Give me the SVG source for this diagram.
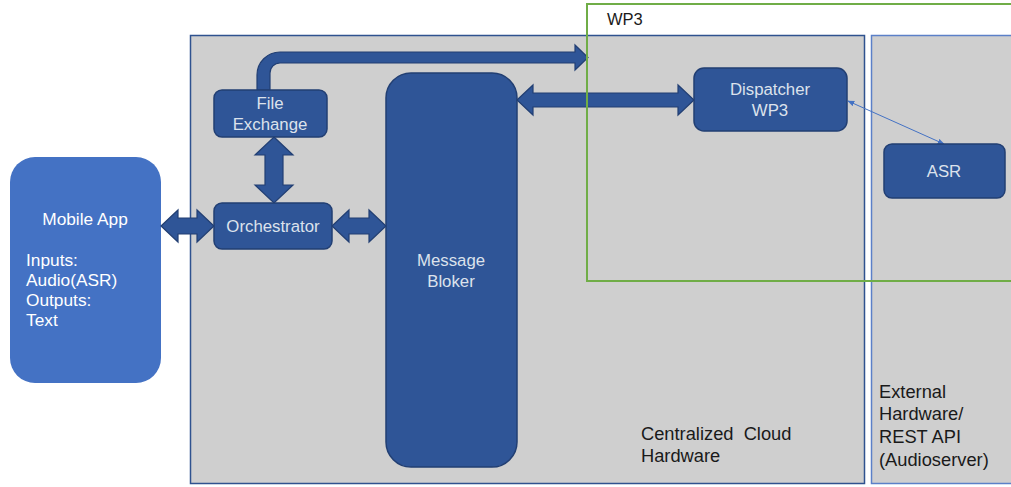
<svg xmlns="http://www.w3.org/2000/svg" width="1011" height="487" viewBox="0 0 1011 487">
<style>
text{font-family:"Liberation Sans",Arial,sans-serif;font-size:16.8px}
.node{fill:#2F5597;stroke:#223F73;stroke-width:1.5}
.nt{fill:#DCE2EC;text-anchor:middle}
.blk{fill:#2F5597;stroke:#223F73;stroke-width:1.2}
.lbl{fill:#1a1a1a;font-size:18.3px}
.mt{fill:#fff;font-size:17.3px}
</style>
<defs>
<marker id="ah" viewBox="0 0 10 10" refX="9" refY="5" markerWidth="7" markerHeight="7" orient="auto-start-reverse">
<path d="M0,1 L10,5 L0,9 Z" fill="#4472C4"/>
</marker>
</defs>
<rect width="1011" height="487" fill="#fff"/>
<g id="cloud">
<rect x="190.5" y="35.5" width="674" height="448" fill="#CFCFCF" stroke="#2F528F" stroke-width="1.5"/>
<text class="lbl" x="641" y="440" xml:space="preserve">Centralized  Cloud</text>
<text class="lbl" x="641" y="462">Hardware</text>
</g>
<g id="external">
<rect x="871.5" y="35.5" width="141" height="448" fill="#CFCFCF" stroke="#5B80C8" stroke-width="1.5"/>
<text class="lbl" x="879" y="398">External</text>
<text class="lbl" x="879" y="420">Hardware/</text>
<text class="lbl" x="879" y="443">REST API</text>
<text class="lbl" x="879" y="466">(Audioserver)</text>
</g>
<g id="mobile-app">
<rect x="10" y="157" width="151" height="226" rx="25" fill="#4472C4"/>
<text class="mt" x="85" y="225" text-anchor="middle">Mobile App</text>
<text class="mt" x="26" y="266">Inputs:</text>
<text class="mt" x="26" y="286">Audio(ASR)</text>
<text class="mt" x="26" y="306">Outputs:</text>
<text class="mt" x="26" y="326">Text</text>
</g>
<g id="connectors">
<path class="blk" d="M161,226 L178,210 L178,218 L197,218 L197,210 L214,226 L197,242 L197,234 L178,234 L178,242 Z"/>
<path class="blk" d="M332,226 L349,210 L349,218 L369,218 L369,210 L386,226 L369,242 L369,234 L349,234 L349,242 Z"/>
<path class="blk" d="M274,137 L293,155 L283,155 L283,185 L293,185 L274,203 L255,185 L265,185 L265,155 L255,155 Z"/>
<path class="blk" d="M517,100 L533,85 L533,93 L678,93 L678,85 L694,100 L678,115 L678,107 L533,107 L533,115 Z"/>
<path class="blk" d="M257,90 V75 A23,23 0 0 1 280,52 H575 V45 L588,57.5 L575,70 V63 H280 A10,10 0 0 0 270,73 V90 Z"/>
<line x1="848" y1="101" x2="944" y2="144" stroke="#4472C4" stroke-width="1" marker-start="url(#ah)" marker-end="url(#ah)"/>
</g>
<g id="file-exchange">
<rect class="node" x="214" y="90" width="113" height="47" rx="8"/>
<text class="nt" x="270" y="109">File</text>
<text class="nt" x="270" y="130">Exchange</text>
</g>
<g id="orchestrator">
<rect class="node" x="214" y="203" width="118" height="46" rx="8"/>
<text class="nt" x="273" y="232">Orchestrator</text>
</g>
<g id="message-bloker">
<rect class="node" x="386" y="73" width="131" height="394" rx="25"/>
<text class="nt" x="451" y="266">Message</text>
<text class="nt" x="451" y="287">Bloker</text>
</g>
<g id="dispatcher">
<rect class="node" x="694" y="68" width="153" height="63" rx="10"/>
<text class="nt" x="770" y="95">Dispatcher</text>
<text class="nt" x="770" y="116">WP3</text>
</g>
<g id="asr">
<rect class="node" x="884" y="144" width="121" height="54" rx="8"/>
<text class="nt" x="944" y="177">ASR</text>
</g>
<g id="wp3">
<rect x="587" y="4" width="430" height="277" fill="none" stroke="#70AD47" stroke-width="2"/>
<text class="lbl" x="607" y="25" style="font-size:16.5px">WP3</text>
</g>
</svg>
